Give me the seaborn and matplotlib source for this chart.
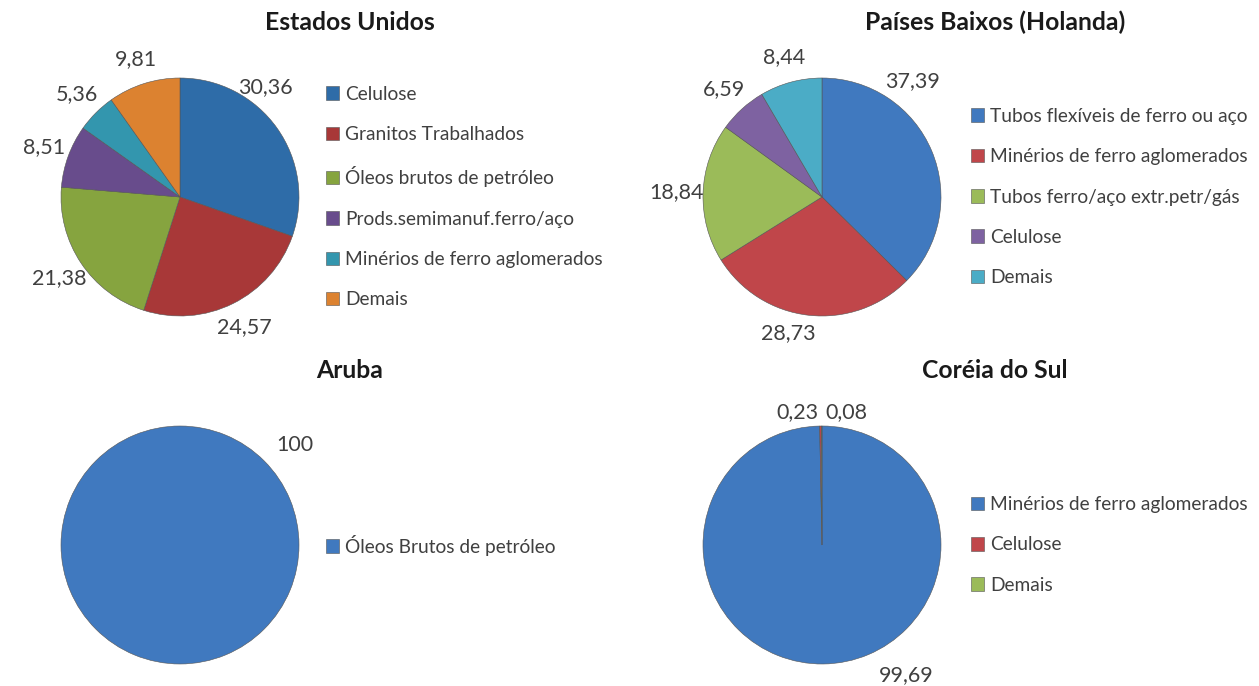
import numpy as np
import matplotlib
matplotlib.use('Agg')
import matplotlib.pyplot as plt
import seaborn as sns

# data
us_labels = ['Celulose', 'Granitos Trabalhados', 'Óleos brutos de petróleo',
             'Prods.semimanuf.ferro/aço', 'Minérios de ferro aglomerados', 'Demais']
us_values = [30.36, 24.57, 21.38, 8.51, 5.36, 9.81]
us_colors = ['#2E6CA8', '#A83838', '#86A43F', '#684C8C', '#3396AE', '#DC8230']

nl_labels = ['Tubos flexíveis de ferro ou aço', 'Minérios de ferro aglomerados',
             'Tubos ferro/aço extr.petr/gás', 'Celulose', 'Demais']
nl_values = [37.39, 28.73, 18.84, 6.59, 8.44]
nl_colors = ['#4079BF', '#C0464A', '#9BBB59', '#7E62A1', '#4BACC6']

aw_labels = ['Óleos Brutos de petróleo']
aw_values = [100]
aw_colors = ['#4079BF']

kr_labels = ['Minérios de ferro aglomerados', 'Celulose', 'Demais']
kr_values = [99.69, 0.23, 0.08]
kr_colors = ['#4079BF', '#C0464A', '#9BBB59']

sns.set_theme(style='white')
plt.rcParams['font.family'] = ['Lato', 'DejaVu Sans']

W, H = 1259, 686
fig = plt.figure(figsize=(W / 100, H / 100), dpi=100)
fig.patch.set_facecolor('white')

R = 119


def fmt(v):
    return f'{v:.2f}'.replace('.', ',') if v != 100 else '100'


def polar(angle, dist):
    a = np.radians(angle)
    return dist * np.cos(a), dist * np.sin(a)


def draw_panel(cx, cy, lx, ty, title, labels, values, colors):
    ax = fig.add_axes([(cx - R) / W, (H - cy - R) / H, 2 * R / W, 2 * R / H])
    wedges, texts = ax.pie(values, colors=colors, startangle=90, counterclock=False,
                           labels=[fmt(v) for v in values], labeldistance=1.22,
                           wedgeprops=dict(linewidth=0.4, edgecolor='#555555'),
                           textprops=dict(fontsize=15.5, color='#404040'))
    for t in texts:
        t.set_ha('center')
        t.set_va('center')
    ax.set_xlim(-1, 1)
    ax.set_ylim(-1, 1)
    ax.set_aspect('equal')
    fig.text((lx + 20) / W, 1 - ty / H, title,
             ha='center', va='center', fontsize=17.8, fontweight='bold', color='#1a1a1a')
    fig.legend(wedges, labels, loc='center left',
               bbox_to_anchor=((lx - 4) / W, 1 - cy / H), frameon=False,
               fontsize=13.8, handlelength=0.7, handleheight=0.7, handletextpad=0.3,
               labelspacing=1.22, borderpad=0, borderaxespad=0, labelcolor='#404040')
    return ax, texts


_, t_us = draw_panel(180, 197, 330, 22, 'Estados Unidos', us_labels, us_values, us_colors)
_, t_nl = draw_panel(822, 197, 975, 22, 'Países Baixos (Holanda)', nl_labels, nl_values, nl_colors)
_, t_aw = draw_panel(180, 545, 330, 370, 'Aruba', aw_labels, aw_values, aw_colors)
_, t_kr = draw_panel(822, 545, 975, 370, 'Coréia do Sul', kr_labels, kr_values, kr_colors)

# labels that the original pushes away from the legend
t_us[0].set_position(polar(52, 1.17))
t_nl[0].set_position(polar(52, 1.24))
t_nl[1].set_position(polar(-104, 1.18))
# single-slice label sits at the upper right like the original
t_aw[0].set_position(polar(41, 1.28))
# tiny korean slices: split labels either side of the top
t_kr[0].set_position(polar(-57, 1.3))
t_kr[1].set_position((-0.03, 1.12))
t_kr[1].set_ha('right')
t_kr[2].set_position((0.03, 1.12))
t_kr[2].set_ha('left')

fig.savefig('out.png', dpi=100, facecolor='white')
